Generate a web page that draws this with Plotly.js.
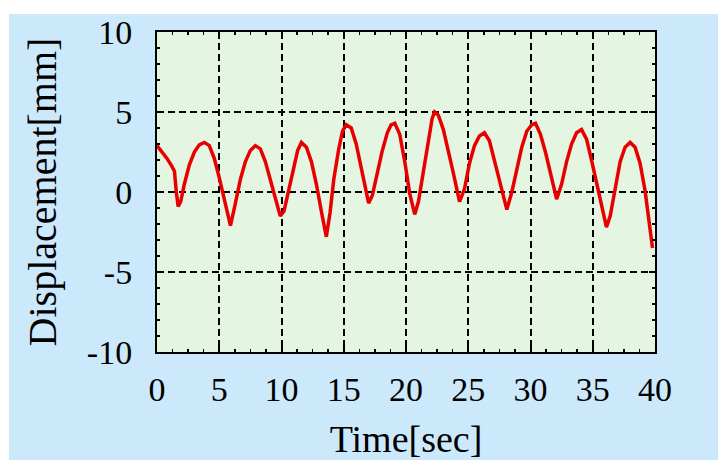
<!DOCTYPE html>
<html><head><meta charset="utf-8">
<script src="https://cdn.plot.ly/plotly-3.0.1.min.js"></script>
<style>
html,body{margin:0;padding:0;background:#ffffff;width:718px;height:460px;overflow:hidden;}
#chart{position:absolute;left:9px;top:14px;width:709px;height:446px;}
</style></head><body>
<div id="chart"></div>
<script>
const timeSec = [0,0.4,0.8,1.2,1.4,1.55,1.7,1.9,2.2,2.6,3.0,3.4,3.8,4.2,4.6,5.0,5.4,5.9,6.3,6.7,7.1,7.5,7.9,8.3,8.7,9.1,9.5,9.9,10.2,10.6,11.0,11.3,11.6,12.0,12.4,12.8,13.2,13.6,13.9,14.2,14.6,14.9,15.2,15.6,16.0,16.4,16.7,17.0,17.3,17.7,18.1,18.5,18.8,19.1,19.5,19.9,20.3,20.7,21.0,21.4,21.8,22.1,22.3,22.6,23.0,23.4,23.8,24.3,24.7,25.1,25.5,25.9,26.3,26.7,27.1,27.5,28.1,28.5,28.9,29.3,29.7,30.1,30.4,30.8,31.2,31.6,32.1,32.5,32.9,33.3,33.7,34.1,34.5,34.9,35.3,35.7,36.1,36.4,36.8,37.2,37.6,38.0,38.4,38.8,39.2,39.5,39.8];
const displacementMm = [2.9,2.5,2.1,1.6,1.3,0.0,-0.9,-0.6,0.5,1.7,2.5,2.95,3.1,2.9,2.1,0.9,-0.4,-2.1,-0.7,0.8,1.9,2.6,2.9,2.7,1.9,0.8,-0.4,-1.5,-1.2,0.2,1.7,2.6,3.1,2.8,1.9,0.5,-1.2,-2.8,-1.3,0.8,2.7,3.8,4.2,4.0,3.0,1.5,0.2,-0.7,-0.2,1.2,2.6,3.7,4.2,4.3,3.6,1.9,-0.1,-1.4,-0.6,1.3,3.3,4.6,5.0,4.8,3.9,2.6,1.2,-0.6,0.2,1.8,2.9,3.5,3.7,3.2,2.0,0.6,-1.1,0.0,1.5,2.8,3.8,4.2,4.3,3.6,2.5,1.2,-0.45,0.5,1.9,3.0,3.7,3.9,3.3,2.0,0.6,-0.8,-2.2,-1.5,0.3,1.9,2.8,3.1,2.8,1.8,0.1,-1.6,-3.5];
const xTicks = [0,5,10,15,20,25,30,35,40];
const yTicks = [-10,-5,0,5,10];

const fontFam = '"Liberation Serif","Times New Roman",serif';
const trace = {
  x: timeSec, y: displacementMm, type: 'scatter', mode: 'lines',
  line: {color: '#e80000', width: 3.5}, hoverinfo: 'skip'
};
const axisCommon = {
  showline: true, linecolor: '#000', linewidth: 2, mirror: 'ticks',
  ticks: 'inside', ticklen: 6, tickwidth: 2, tickcolor: '#000',
  showgrid: true, gridcolor: '#000', gridwidth: 2, griddash: '7px,4px',
  zeroline: false, fixedrange: true, ticklabeloverflow: 'allow',
  tickfont: {family: fontFam, size: 34, color: '#000'}
};
const layout = {
  width: 709, height: 446,
  margin: {l: 148, r: 63, t: 18, b: 108, pad: 0},
  paper_bgcolor: '#cce9fb', plot_bgcolor: '#e4f5e2',
  showlegend: false,
  xaxis: Object.assign({}, axisCommon, {
    range: [0, 40], tickvals: xTicks, ticktext: xTicks.map(String),
    ticklabelstandoff: 6,
    minor: {dtick: 1.25, ticks: 'inside', ticklen: 3, tickwidth: 1.5, tickcolor: '#000', showgrid: false},
    title: {text: 'Time[sec]', font: {family: fontFam, size: 38, color: '#000'}, standoff: 19}
  }),
  yaxis: Object.assign({}, axisCommon, {
    range: [-10, 10], tickvals: yTicks, ticktext: yTicks.map(String),
    ticklabelstandoff: 16,
    minor: {dtick: 1, ticks: 'inside', ticklen: 3, tickwidth: 1.5, tickcolor: '#000', showgrid: false},
    title: {text: 'Displacement[mm]', font: {family: fontFam, size: 40, color: '#000'}, standoff: 18}
  })
};
Plotly.newPlot('chart', [trace], layout, {displayModeBar: false, staticPlot: true});
</script>
</body></html>
